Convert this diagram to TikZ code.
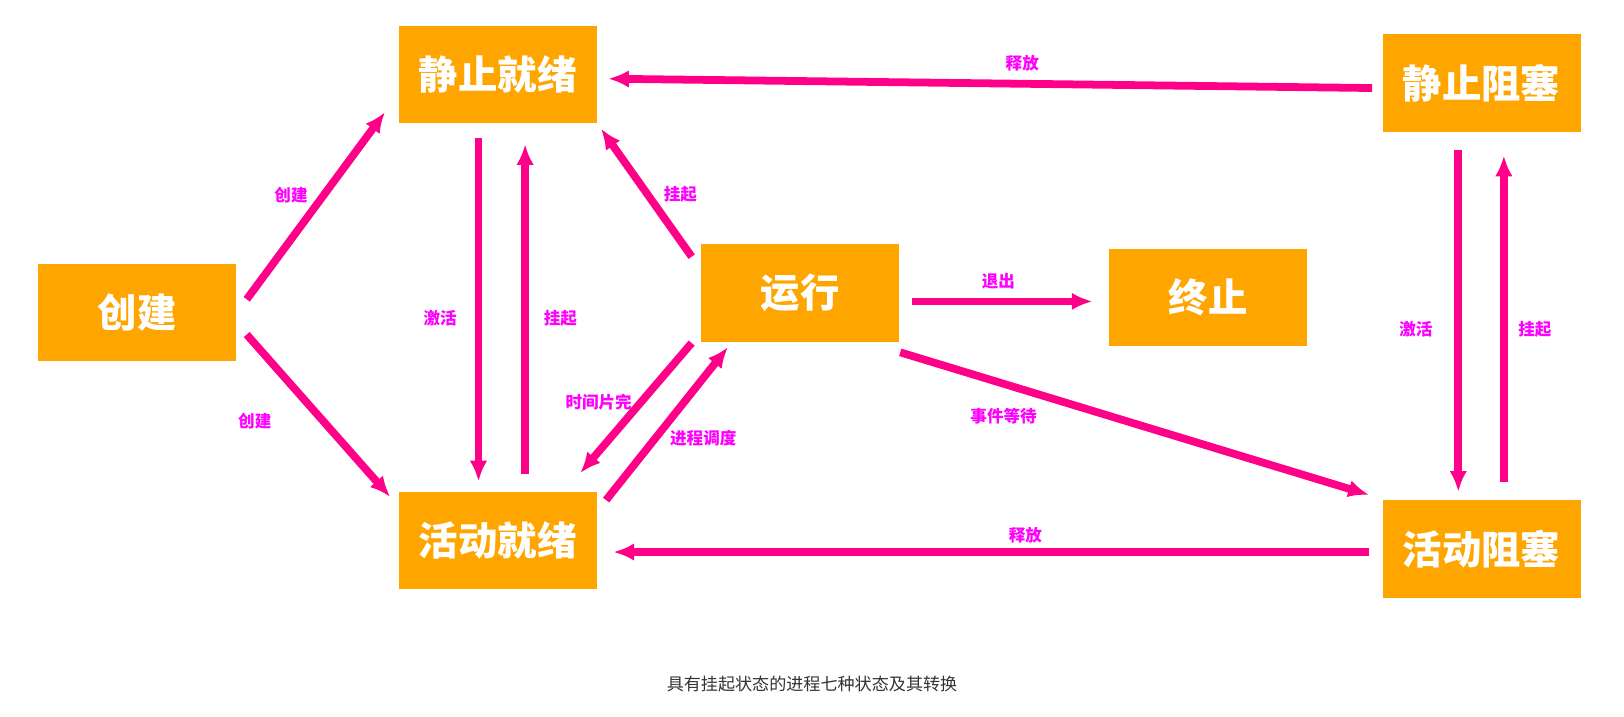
\documentclass[tikz,border=0pt]{standalone}
\usepackage{fontspec}
\setmainfont{Noto Sans CJK SC}
\usetikzlibrary{arrows.meta,calc}
\definecolor{boxfill}{HTML}{FFA500}
\definecolor{arr}{HTML}{FF0088}
\definecolor{lab}{HTML}{FF00FF}
\definecolor{cap}{HTML}{333333}
\tikzset{
  state/.style={fill=boxfill, draw=none, minimum width=191pt, minimum height=94pt, inner sep=0pt,
    text=white, font=\fontsize{38}{42}\selectfont\bfseries},
  conn/.style={draw=arr, line width=7.5pt, -{Latex[length=20pt,width=17pt]}},
  lbl/.style={text=lab, font=\fontsize{16}{18}\selectfont\bfseries, inner sep=1pt},
}
\begin{document}
\begin{tikzpicture}[x=1pt,y=-1pt]
\useasboundingbox[fill=white] (0,0) rectangle (1568,692);
\node[state] (cj)   at (132.5,302) {创建};
\node[state] (jzjx) at (480.5,72)  {静止就绪};
\node[state] (hdjx) at (480.5,522) {活动就绪};
\node[state] (yx)   at (772.5,283) {运行};
\node[state] (zz)   at (1166.5,287) {终止};
\node[state] (jzzs) at (1430.5,80) {静止阻塞};
\node[state] (hdzs) at (1430.5,530) {活动阻塞};

\draw[conn] ($(cj.east)+(10,-13)$) -- ($(jzjx.south west)+(-13,-11)$);
\draw[conn] ($(cj.east)+(10,21)$) -- ($(hdjx.north west)+(-8,5)$);
\draw[conn] ($(jzjx.south)+(-18.5,14)$) -- ($(hdjx.north)+(-18.5,-10)$);
\draw[conn] ($(hdjx.north)+(26.5,-17)$) -- ($(jzjx.south)+(26.5,20)$);
\draw[conn] ($(yx.north west)+(-9,12)$) -- ($(jzjx.south east)+(4,5)$);
\draw[conn] ($(yx.south west)+(-9,1)$) -- ($(hdjx.north east)+(-16,-18)$);
\draw[conn] ($(hdjx.north east)+(9,8)$) -- ($(yx.south west)+(26,5)$);
\draw[conn] ($(yx.east)+(12,8)$) -- ($(zz.west)+(-16,4)$);
\draw[conn] ($(yx.south east)+(1,10)$) -- ($(hdzs.north west)+(-13,-5)$);
\draw[conn] ($(jzzs.west)+(-10,5)$) -- ($(jzjx.east)+(11,4)$);
\draw[conn] ($(hdzs.west)+(-13,3)$) -- ($(hdjx.east)+(16,11)$);
\draw[conn] ($(jzzs.south)+(-22.5,18)$) -- ($(hdzs.north)+(-22.5,-8)$);
\draw[conn] ($(hdzs.north)+(21.5,-17)$) -- ($(jzzs.south)+(21.5,23)$);

\node[lbl] (l1)  at (281,188) {创建};
\node[lbl] (l2)  at (246,407) {创建};
\node[lbl] (l3)  at (425,307) {激活};
\node[lbl] (l4)  at (541,307) {挂起};
\node[lbl] (l5)  at (657,188) {挂起};
\node[lbl] (l6)  at (578,388) {时间片完};
\node[lbl] (l7)  at (679,423) {进程调度};
\node[lbl] (l8)  at (964,272) {退出};
\node[lbl] (l9)  at (969,402) {事件等待};
\node[lbl] (l10) at (987,61)  {释放};
\node[lbl] (l11) at (990,517) {释放};
\node[lbl] (l12) at (1367,318) {激活};
\node[lbl] (l13) at (1482,318) {挂起};

\node[text=cap, font=\fontsize{16.5}{19}\selectfont] (caption) at (784,660) {具有挂起状态的进程七种状态及其转换};
\end{tikzpicture}
\end{document}
